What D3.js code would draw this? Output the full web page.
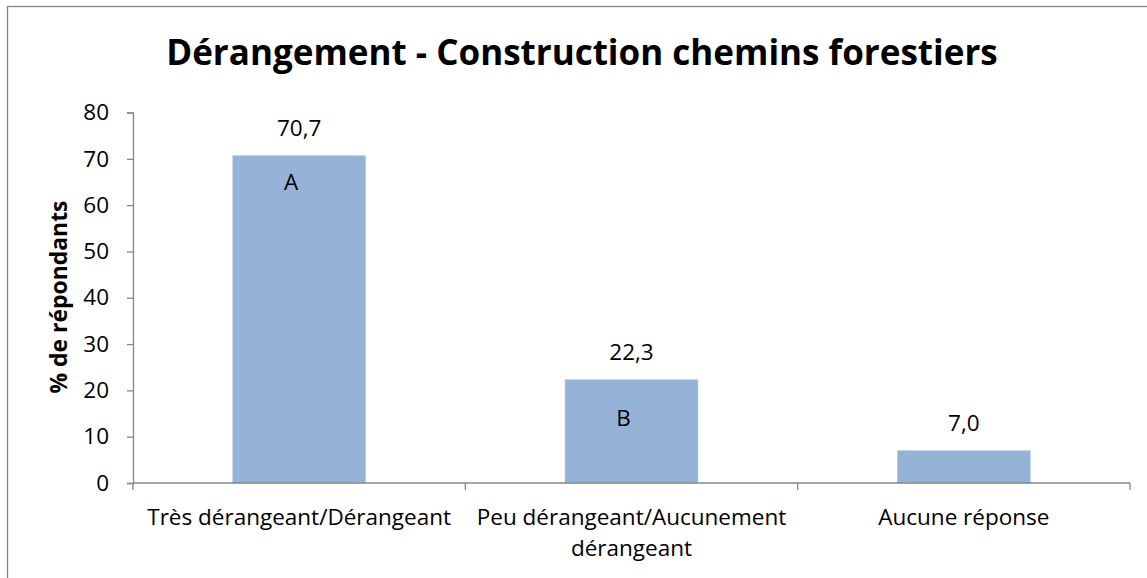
<!DOCTYPE html>
<html><head><meta charset="utf-8">
<script src="https://cdn.jsdelivr.net/npm/d3@7"></script>
<style>html,body{margin:0;padding:0;background:#fff;}svg{display:block;}</style>
</head><body>
<svg id="c" width="1147" height="578"></svg>
<script>
const categories = [["Très dérangeant/Dérangeant"], ["Peu dérangeant/Aucunement", "dérangeant"], ["Aucune réponse"]];
const values = [70.7, 22.3, 7.0];
const valueLabels = ["70,7", "22,3", "7,0"];
const letters = ["A", "B", ""];
const yTicks = [0, 10, 20, 30, 40, 50, 60, 70, 80];
const titleText = "Dérangement - Construction chemins forestiers";
const yTitle = "% de répondants";

const W = 1147, H = 578;
const m = {left: 133, right: 17, top: 112.5, bottom: 95};
const FONT = "'Open Sans', 'Liberation Sans', sans-serif";
const FS = 22.5;
const svg = d3.select("#c");
svg.append("rect").attr("x", 7.5).attr("y", 6.5).attr("width", 1150).attr("height", 590)
  .attr("fill", "#fff").attr("stroke", "#868686").attr("stroke-width", 1.3);

const x = d3.scaleBand().domain(d3.range(values.length)).range([m.left, W - m.right]).paddingInner(0.6).paddingOuter(0.3);
const xb = d3.scaleBand().domain(d3.range(values.length)).range([m.left, W - m.right]);
const y = d3.scaleLinear().domain([0, 80]).range([H - m.bottom, m.top]);

// y axis
const ya = svg.append("g").attr("transform", `translate(${m.left},0)`)
  .call(d3.axisLeft(y).tickValues(yTicks).tickSize(6).tickPadding(18).tickFormat(d3.format("d")));
ya.select(".domain").attr("stroke", "#868686").attr("stroke-width", 1.3);
ya.selectAll(".tick line").attr("stroke", "#868686").attr("stroke-width", 1.3);
ya.selectAll(".tick text").attr("font-family", FONT).attr("font-size", FS).attr("fill", "#000");

// bars
svg.append("g").selectAll("rect").data(values).join("rect")
  .attr("x", (d, i) => x(i)).attr("width", x.bandwidth())
  .attr("y", d => y(d)).attr("height", d => y(0) - y(d))
  .attr("fill", "#95b3d7").attr("stroke", "#b9cde5").attr("stroke-width", 0.6);

// x axis
const xa = svg.append("g").attr("transform", `translate(0,${y(0)})`);
xa.append("line").attr("x1", m.left).attr("x2", W - m.right).attr("stroke", "#868686").attr("stroke-width", 1.3);
const bounds = d3.range(values.length + 1).map(i => i < values.length ? xb(i) : xb(values.length - 1) + xb.bandwidth());
xa.selectAll("line.t").data(bounds).join("line").attr("class", "t")
  .attr("x1", d => d).attr("x2", d => d).attr("y1", 0).attr("y2", 7)
  .attr("stroke", "#868686").attr("stroke-width", 1.3);
const xl = xa.selectAll("text").data(categories).join("text")
  .attr("text-anchor", "middle").attr("font-family", FONT).attr("font-size", FS).attr("fill", "#000");
xl.each(function(lines, i) {
  d3.select(this).selectAll("tspan").data(lines).join("tspan")
    .attr("x", xb(i) + xb.bandwidth() / 2).attr("y", (d, j) => 42 + j * 31).text(d => d);
});

// value labels
svg.append("g").selectAll("text").data(values).join("text")
  .attr("x", (d, i) => x(i) + x.bandwidth() / 2).attr("y", d => y(d) - 20)
  .attr("text-anchor", "middle").attr("font-family", FONT).attr("font-size", FS).attr("fill", "#000")
  .text((d, i) => valueLabels[i]);

// letters
const letterOffsets = [34, 46, 0];
svg.append("g").selectAll("text").data(letters).join("text")
  .attr("x", (d, i) => x(i) + x.bandwidth() / 2 - 8).attr("y", (d, i) => y(values[i]) + letterOffsets[i])
  .attr("text-anchor", "middle").attr("font-family", FONT).attr("font-size", FS).attr("fill", "#000")
  .text(d => d);

// title
const t = svg.append("text").attr("x", 582).attr("y", 65).attr("text-anchor", "middle")
  .attr("font-family", FONT).attr("font-weight", "bold").attr("font-size", 30).attr("fill", "#000").text(titleText);
const tw = t.node().getComputedTextLength();
t.attr("font-size", 30 * 832 / tw);

// y title
const yt = svg.append("text").attr("transform", "translate(67,297) rotate(-90)").attr("text-anchor", "middle")
  .attr("font-family", FONT).attr("font-weight", "bold").attr("font-size", 18).attr("fill", "#000").text(yTitle);
const yw = yt.node().getComputedTextLength();
yt.attr("font-size", 18 * 193 / yw);
</script>
</body></html>
